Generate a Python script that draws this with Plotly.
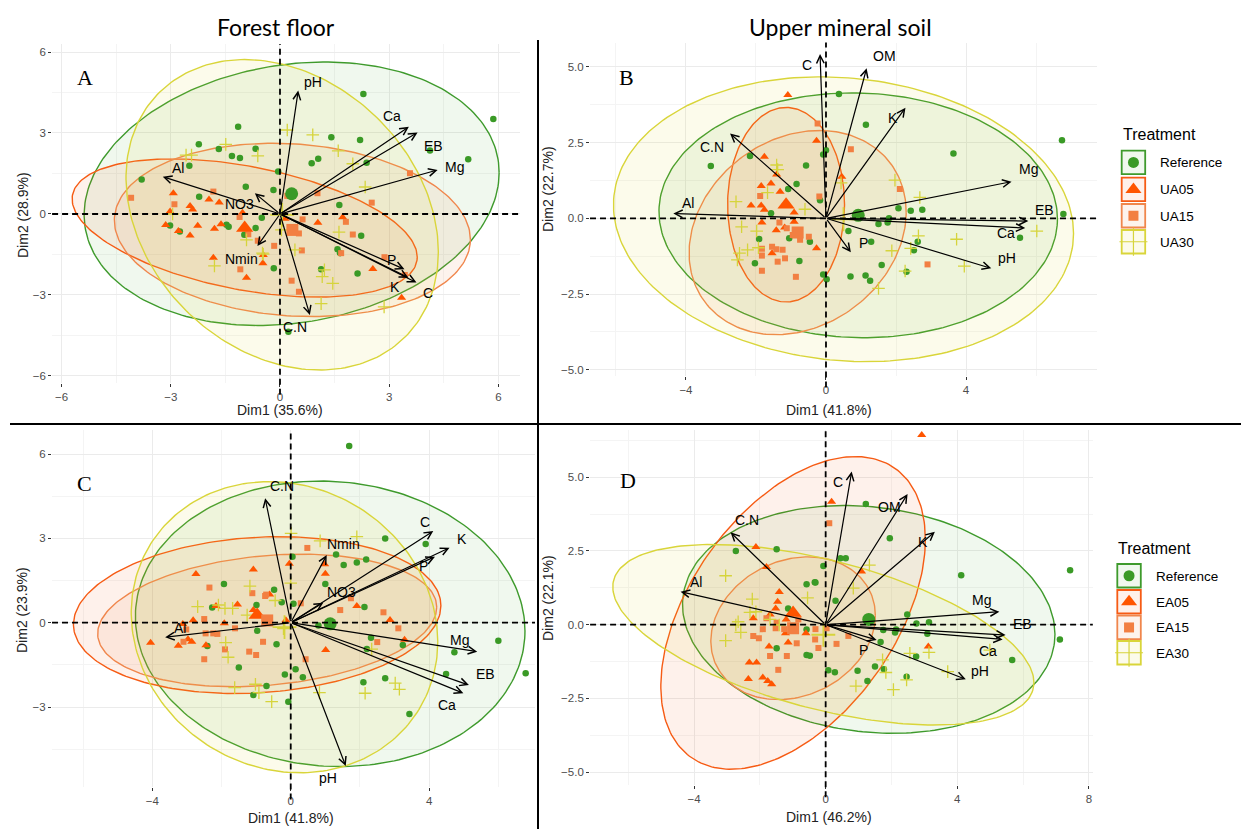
import numpy as np
import plotly.graph_objects as go

W, H = 1247, 829

TOP_LABELS = ["Reference", "UA05", "UA15", "UA30"]
BOTTOM_LABELS = ["Reference", "EA05", "EA15", "EA30"]

# ---------------- Panel A : Forest floor, UA ----------------
A_REF = [(-3.80, 1.28), (-1.15, 3.23), (-2.23, 2.58), (-1.68, 2.41), (-1.32, 2.15), (-1.10, 2.07), (-0.67, 2.42),
         (-2.49, 1.79), (-0.94, 1.01), (-2.22, 0.64), (-0.50, -0.14), (-3.02, -0.43), (-2.75, -0.65), (-1.47, -0.40),
         (-1.41, -0.47), (-0.67, -0.52), (-0.98, -0.77), (2.29, 4.44), (5.86, 3.52), (1.41, 2.84), (2.20, 2.74),
         (4.12, 2.35), (5.17, 2.03), (1.05, 2.05), (0.87, 1.88), (2.38, 1.90), (-0.05, 1.57), (-0.18, 0.89),
         (1.63, 0.33), (2.23, -0.81), (1.58, -1.31), (1.65, -1.45), (1.13, -2.05), (2.13, -2.20), (-0.17, -2.01),
         (0.23, -4.36)]
A_G05 = [(-2.93, 0.77), (-3.14, -0.41), (-3.02, 0.09), (-2.79, -0.63), (-2.47, 0.30), (-2.40, 0.17), (-2.47, -0.80),
         (-2.26, -0.44), (-1.95, 0.54), (-1.67, 0.43), (-1.80, -0.55), (-1.62, -0.38), (-1.83, -1.62), (-0.92, -2.36),
         (-1.03, 0.05), (-0.47, -1.82), (1.04, -0.32), (1.72, -0.12), (-0.46, -1.52), (2.55, -2.04), (3.34, -3.10),
         (0.14, -0.18)]
A_G15 = [(-4.09, 0.60), (-2.90, 0.36), (-1.83, 0.83), (-1.11, -0.11), (-0.61, -0.99), (-0.87, -0.75), (-1.09, -2.05),
         (3.57, 1.51), (1.03, 0.77), (2.52, 0.42), (0.20, 0.67), (0.62, -0.20), (1.81, -0.29), (0.52, -0.72),
         (2.00, -0.76), (-0.16, -1.18), (0.60, -1.35), (1.68, -1.45), (2.87, -1.60), (0.32, -2.47), (0.52, -2.88),
         (3.43, -2.26)]
A_G30 = [(-2.58, 2.18), (-2.43, 2.18), (-1.49, 2.58), (-0.61, 2.15), (-2.95, 0.0), (-1.80, -1.92), (-0.92, -0.96),
         (-0.46, -1.49), (0.20, 3.11), (0.90, 2.93), (1.60, 2.34), (2.34, 1.0), (2.0, 1.86), (0.04, -0.59),
         (-0.48, -1.45), (0.41, -1.33), (1.62, -0.67), (1.22, -2.07), (1.16, -2.32), (1.45, -2.57), (1.13, -3.32),
         (2.86, -3.44)]
A_MEANS = [(0.32, 0.75), (-0.97, -0.52), (0.34, -0.59), (0.06, -0.03)]
A_SPREAD = [(5.70, 4.88), (4.74, 2.56), (4.89, 3.21), (4.29, 5.75)]
A_RHO = [0.16, -0.42, -0.11, -0.24]
A_VARS = ["pH", "Ca", "EB", "Mg", "P", "K", "C", "C.N", "Al", "NO3", "Nmin"]
A_VX = [0.50, 3.54, 3.78, 4.33, 3.42, 3.53, 3.75, 0.82, -3.22, -0.69, -0.62]
A_VY = [4.57, 3.23, 3.02, 1.63, -2.05, -2.36, -2.54, -3.74, 1.38, 0.77, -1.19]
A_LX = [0.92, 3.07, 4.21, 4.78, 3.07, 3.16, 4.07, 0.40, -2.80, -1.12, -1.05]
A_LY = [4.90, 3.63, 2.53, 1.75, -1.70, -2.69, -2.94, -4.20, 1.72, 0.37, -1.65]

# ---------------- Panel B : Upper mineral soil, UA ----------------
B_REF = [(-3.29, 1.73), (-2.17, 2.06), (-1.08, 0.97), (-0.84, 1.13), (-0.57, 1.74), (-1.57, 0.17), (-1.91, -0.68),
         (-1.05, -0.66), (-0.46, -0.77), (-2.03, -1.48), (-0.76, -1.41), (0.37, 4.10), (1.14, 3.09), (0.0, 2.25),
         (-0.08, 2.11), (3.64, 2.14), (6.74, 2.58), (6.78, 0.14), (2.07, 0.33), (2.42, 0.25), (2.75, 0.28),
         (1.80, 0.0), (1.50, -0.19), (1.76, -0.14), (1.29, -0.77), (2.62, -0.77), (2.51, -1.05), (1.59, -1.54),
         (2.30, -1.76), (0.70, -1.92), (1.13, -1.89), (1.26, -2.06), (-0.08, -1.85), (0.02, -2.01), (5.54, -0.64),
         (0.64, -0.42), (-0.17, 0.60)]
B_G05 = [(-1.09, 4.07), (-1.76, 2.03), (-1.85, 1.07), (-1.57, 1.15), (-1.31, 0.88), (-2.14, 0.42), (-1.85, 0.42),
         (-1.76, 0.28), (-1.41, 1.45), (-1.83, -0.14), (-1.42, -0.39), (-1.18, -0.30), (-0.91, -0.11), (-1.54, -1.15),
         (-0.91, 0.19), (-0.27, 2.56), (-0.27, -0.99), (0.45, 1.37)]
B_G15 = [(-1.33, -0.14), (-1.12, -0.33), (-0.95, -0.55), (-0.49, -0.61), (-1.83, -1.00), (-1.83, -1.23), (-1.54, -0.94),
         (-1.42, -1.02), (-1.24, -1.04), (-1.17, -1.32), (-1.38, -1.43), (-1.83, -1.73), (-0.86, -1.93), (-1.88, 0.74),
         (-0.74, -0.71), (-0.19, 0.72), (-0.24, 3.13), (0.71, 2.28), (2.11, 0.97), (2.90, -1.52)]
B_G30 = [(-1.41, 1.76), (-1.38, 1.61), (-1.67, 0.85), (-2.57, 0.55), (-0.60, 0.30), (-2.41, -0.28), (-1.98, -0.42),
         (-1.93, -0.97), (-2.24, -1.04), (-2.47, -1.15), (-2.53, -1.37), (1.97, 1.26), (0.43, 1.17), (2.68, 0.69),
         (6.02, -0.42), (3.73, -0.69), (2.64, -0.58), (2.42, -0.99), (1.88, -1.07), (3.95, -1.58), (2.26, -1.74),
         (1.50, -2.31)]
B_MEANS = [(0.92, 0.10), (-1.14, 0.45), (-0.81, -0.47), (0.50, -0.03)]
B_SPREAD = [(5.69, 4.04), (1.67, 3.21), (3.10, 3.37), (6.57, 4.70)]
B_RHO = [-0.03, 0.0, 0.20, -0.10]
B_VARS = ["C", "OM", "K", "Mg", "EB", "Ca", "pH", "P", "C.N", "Al"]
B_VX = [-0.17, 1.16, 2.27, 5.30, 5.78, 5.69, 4.72, 0.71, -2.74, -4.36]
B_VY = [5.42, 4.95, 3.65, 1.21, -0.09, -0.32, -1.65, -1.12, 2.80, 0.16]
B_LX = [-0.55, 1.66, 1.90, 5.78, 6.24, 5.14, 5.18, 1.07, -3.25, -3.93]
B_LY = [5.06, 5.36, 3.30, 1.64, 0.27, -0.49, -1.30, -0.80, 2.37, 0.50]

# ---------------- Panel C : Forest floor, EA ----------------
C_REF = [(-1.93, 1.38), (-2.27, 0.54), (-0.99, 0.63), (-0.97, -0.29), (-2.41, -0.83), (-1.50, -1.59), (-0.70, -2.25),
         (-1.08, -2.57), (1.69, 6.29), (2.73, 3.0), (3.90, 2.80), (1.31, 2.43), (1.53, 2.05), (1.91, 2.14),
         (2.18, 2.25), (0.05, 2.35), (1.0, 1.38), (-0.48, 1.17), (-0.26, 0.73), (0.08, 0.67), (2.13, 0.56),
         (0.80, -0.10), (2.32, -0.54), (2.20, -0.94), (3.24, -0.79), (0.14, -1.66), (-0.17, -1.84), (0.35, -1.94),
         (-0.41, -0.77), (-0.07, -2.81), (2.10, -2.12), (2.73, -1.98), (3.43, -3.25), (4.49, -1.83), (4.73, -1.05),
         (6.0, -0.64), (6.79, -1.80)]
C_G05 = [(-2.74, 1.73), (-1.08, 1.89), (-1.54, 0.65), (-2.16, 0.59), (-2.82, 0.09), (-3.12, -0.05), (-2.97, -0.59),
         (-2.86, -0.68), (-3.25, -0.82), (-4.05, -0.71), (-1.92, -0.02), (-2.45, -0.80), (-1.08, 0.45), (-0.04, 2.10),
         (1.0, 1.74), (0.98, 2.08), (1.91, 0.59), (2.87, 0.10), (3.29, -0.61), (1.01, -0.97), (-0.14, 0.09),
         (-0.61, 1.0)]
C_G15 = [(-2.35, 1.25), (-1.11, 1.05), (-0.74, 0.95), (-2.50, 0.13), (-3.02, -0.24), (-3.10, -0.68), (-2.46, -0.38),
         (-2.24, -0.38), (-2.12, -0.40), (-1.61, -0.20), (-1.90, -0.95), (-2.50, -1.30), (-1.20, -1.03), (-1.0, -1.15),
         (-0.80, -0.68), (0.48, 2.66), (0.29, 0.69), (1.43, 0.45), (1.74, 0.87), (2.68, 0.37), (3.11, -0.20),
         (2.50, -0.69), (0.43, -1.30), (-0.71, 1.0)]
C_G30 = [(-2.69, 0.57), (-2.09, 0.63), (-1.90, 0.51), (-1.68, 0.51), (-1.18, 1.30), (-1.26, 0.27), (-1.88, -0.71),
         (-1.81, -1.23), (-1.62, -2.31), (-1.02, -2.19), (-0.92, -2.49), (0.01, 3.18), (0.85, 2.91), (1.91, 3.06),
         (0.0, 1.41), (-0.21, -0.21), (2.34, -0.94), (3.02, -2.15), (3.14, -2.37), (2.15, -2.51), (0.83, -2.49),
         (-0.55, -2.81), (-0.45, 0.79)]
C_MEANS = [(1.14, -0.04), (-0.97, 0.27), (-0.68, 0.08), (-0.18, -0.16)]
C_SPREAD = [(5.63, 5.08), (5.31, 2.79), (4.90, 2.36), (4.43, 5.18)]
C_RHO = [-0.05, 0.12, 0.20, -0.10]
C_VARS = ["C.N", "Nmin", "NO3", "C", "K", "P", "Mg", "EB", "Ca", "pH", "Al"]
C_VX = [-0.74, 1.04, 0.94, 4.12, 4.59, 4.17, 5.39, 5.15, 4.99, 1.59, -3.63]
C_VY = [4.43, 2.41, 0.71, 3.26, 2.67, 2.35, -1.03, -2.22, -2.51, -5.10, -0.52]
C_LX = [-0.25, 1.52, 1.47, 3.87, 4.94, 3.83, 4.89, 5.64, 4.51, 1.09, -3.20]
C_LY = [4.86, 2.80, 1.10, 3.60, 2.97, 2.00, -0.62, -1.83, -2.93, -5.54, -0.20]

# ---------------- Panel D : Upper mineral soil, EA ----------------
D_REF = [(-2.73, 2.50), (-1.49, 2.56), (-0.58, 1.37), (-0.33, 1.44), (-1.14, 0.55), (-0.58, -0.16), (-1.49, -0.80),
         (-0.58, -1.03), (-0.48, -1.05), (1.22, 4.09), (1.95, 2.93), (0.45, 2.25), (0.61, 2.25), (-0.07, 1.99),
         (-0.31, 1.43), (0.30, 0.81), (4.12, 1.68), (7.43, 1.85), (2.48, 0.35), (2.76, 0.04), (3.14, 0.08),
         (1.75, -0.18), (2.14, -0.16), (2.11, -0.26), (3.09, -0.31), (1.67, -0.59), (2.75, -1.08), (1.50, -1.42),
         (0.97, -1.56), (1.77, -1.51), (1.27, -1.91), (2.46, -1.76), (0.08, -1.54), (0.28, -1.61), (5.67, -1.20),
         (7.12, -0.50)]
D_G05 = [(-2.12, 2.63), (-1.80, 1.96), (-1.41, 1.11), (-1.46, 0.78), (-1.52, 0.55), (-1.69, 0.35), (-2.20, 0.22),
         (-1.20, 0.18), (-1.22, -0.29), (-1.14, -0.60), (-0.60, -0.29), (-1.72, -0.74), (-2.32, -1.28), (-2.10, -1.28),
         (-2.35, -1.84), (-1.91, -1.79), (-1.76, -1.91), (-1.64, -2.02), (2.92, 6.43), (0.18, 4.17), (1.09, 1.80),
         (3.12, -0.74)]
D_G15 = [(-1.80, 0.22), (-1.49, 0.07), (-2.20, -0.38), (-2.03, -0.46), (-1.91, -0.15), (-1.52, -0.12), (-1.26, -0.15),
         (-0.88, -0.63), (-1.18, -1.06), (-1.69, -1.06), (-1.44, -1.53), (-0.83, 0.18), (-0.31, -0.15), (0.11, 3.44),
         (0.69, -0.38), (0.33, -0.65), (-0.32, -0.50), (-0.22, -0.79), (0.03, -0.12)]
D_G30 = [(-3.04, 1.66), (-2.23, 0.87), (-2.30, 0.42), (-2.12, 0.44), (-2.66, 0.10), (-2.73, -0.01), (-2.58, -0.26),
         (-3.04, -0.54), (-1.69, 0.18), (-1.41, -0.01), (-0.55, 0.91), (1.33, 2.02), (0.84, 1.24), (1.73, -1.19),
         (1.83, -1.62), (2.56, -0.97), (3.14, -0.94), (3.71, -1.59), (2.46, -1.87), (2.06, -2.20), (0.92, -2.08),
         (4.99, -0.86)]
D_MEANS = [(1.31, 0.18), (-0.99, 0.40), (-0.99, -0.12), (-0.07, -0.34)]
D_SPREAD = [(5.66, 3.86), (4.02, 5.30), (2.50, 2.42), (6.40, 3.06)]
D_RHO = [-0.13, 0.47, 0.18, -0.53]
D_VARS = ["C", "OM", "K", "Mg", "EB", "Ca", "pH", "P", "C.N", "Al"]
D_VX = [0.79, 2.49, 3.32, 5.28, 5.47, 5.38, 4.26, 1.55, -2.89, -4.41]
D_VY = [5.19, 4.43, 3.15, 0.44, -0.35, -0.50, -1.85, -0.52, 3.13, 1.12]
D_LX = [0.36, 1.95, 2.97, 4.74, 5.98, 4.92, 4.69, 1.14, -2.39, -3.95]
D_LY = [4.85, 3.98, 2.81, 0.84, 0.02, -0.88, -1.56, -0.86, 3.55, 1.46]

# ---------------- styles ----------------
LINE_COLORS = ["#3E9A2C", "#F65B14", "#F0864C", "#D9D53A"]
PT_COLORS = ["#3A9A26", "#FF5500", "#F27F42", "#D6D43C"]
FILL_COLORS = ["rgba(62,160,44,0.08)", "rgba(246,91,20,0.085)", "rgba(240,134,76,0.10)", "rgba(225,220,60,0.10)"]
SYMBOLS = ["circle", "triangle-up", "square", "cross-thin"]
SIZES = [6.5, 8, 6, 9]
MEAN_SIZES = [13, 15, 12, 17]
FONT = "Liberation Sans"

panels = [
    dict(sfx="", groups=[A_REF, A_G05, A_G15, A_G30], means=A_MEANS, spread=A_SPREAD, rho=A_RHO,
         vars=A_VARS, vx=A_VX, vy=A_VY, lx=A_LX, ly=A_LY,
         box=(52.1, 43.9, 519.9, 383.0), xr=[-6.26, 6.59], yr=[-6.26, 6.30], xd=3, yd=3, yfmt=None),
    dict(sfx="2", groups=[B_REF, B_G05, B_G15, B_G30], means=B_MEANS, spread=B_SPREAD, rho=B_RHO,
         vars=B_VARS, vx=B_VX, vy=B_VY, lx=B_LX, ly=B_LY,
         box=(590.0, 42.6, 1097.0, 375.9), xr=[-6.74, 7.74], yr=[-5.2, 5.8], xd=4, yd=2.5, yfmt=".1f"),
    dict(sfx="3", groups=[C_REF, C_G05, C_G15, C_G30], means=C_MEANS, spread=C_SPREAD, rho=C_RHO,
         vars=C_VARS, vx=C_VX, vy=C_VY, lx=C_LX, ly=C_LY,
         box=(52.0, 429.9, 535.0, 787.1), xr=[-6.9, 7.06], yr=[-5.85, 6.86], xd=4, yd=3, yfmt=None),
    dict(sfx="4", groups=[D_REF, D_G05, D_G15, D_G30], means=D_MEANS, spread=D_SPREAD, rho=D_RHO,
         vars=D_VARS, vx=D_VX, vy=D_VY, lx=D_LX, ly=D_LY,
         box=(590.1, 430.0, 1092.8, 784.9), xr=[-7.16, 8.12], yr=[-5.43, 6.6], xd=4, yd=2.5, yfmt=".1f"),
]


def ellipse(center, spread, rho, n=240):
    t = np.linspace(0, 2 * np.pi, n)
    cx, cy = center
    sx, sy = spread
    x = cx + sx * np.cos(t)
    y = cy + sy * (rho * np.cos(t) + np.sqrt(1 - rho ** 2) * np.sin(t))
    return x, y


def px(x):
    return x / W


def py(y):
    return 1 - y / H


def paper_text(text, x, y, size, family=None, color="black", xanchor="center", angle=0):
    return dict(x=px(x), y=py(y), xref="paper", yref="paper", text=text, showarrow=False,
                xanchor=xanchor, yanchor="middle", textangle=angle,
                font=dict(family=family or FONT, size=size, color=color))


fig = go.Figure()
shapes = []
annotations = []
layout_axes = {}
DASH = dict(color="black", width=1.8, dash="6px,4px")

for p in panels:
    xa, ya = "x" + p["sfx"], "y" + p["sfx"]
    for g in range(4):
        ex, ey = ellipse(p["means"][g], p["spread"][g], p["rho"][g])
        fig.add_trace(go.Scatter(x=ex, y=ey, mode="lines", fill="toself", fillcolor=FILL_COLORS[g],
                                 line=dict(color=LINE_COLORS[g], width=1.4), hoverinfo="skip",
                                 showlegend=False, xaxis=xa, yaxis=ya))
    for g in range(4):
        pts = p["groups"][g]
        fig.add_trace(go.Scatter(x=[q[0] for q in pts], y=[q[1] for q in pts], mode="markers",
                                 marker=dict(symbol=SYMBOLS[g], size=SIZES[g], color=PT_COLORS[g],
                                             line=dict(width=1.3 if g == 3 else 0, color=PT_COLORS[g])),
                                 showlegend=False, xaxis=xa, yaxis=ya))
    for g in range(4):
        m = p["means"][g]
        fig.add_trace(go.Scatter(x=[m[0]], y=[m[1]], mode="markers",
                                 marker=dict(symbol=SYMBOLS[g], size=MEAN_SIZES[g], color=PT_COLORS[g],
                                             line=dict(width=1.8 if g == 3 else 0, color=PT_COLORS[g])),
                                 showlegend=False, xaxis=xa, yaxis=ya))
    shapes.append(dict(type="line", xref=xa, yref=ya + " domain", x0=0, x1=0, y0=-0.035, y1=1.0,
                       line=DASH, layer="above"))
    shapes.append(dict(type="line", xref=xa + " domain", yref=ya, x0=0, x1=1, y0=0, y1=0,
                       line=DASH, layer="above"))
    for name, vx, vy, lx, ly in zip(p["vars"], p["vx"], p["vy"], p["lx"], p["ly"]):
        annotations.append(dict(x=vx, y=vy, ax=0, ay=0, xref=xa, yref=ya, axref=xa, ayref=ya, text="",
                                showarrow=True, arrowhead=5, arrowsize=1.25, arrowwidth=1.2,
                                arrowcolor="black", standoff=0, startstandoff=0))
        annotations.append(dict(x=lx, y=ly, xref=xa, yref=ya, text=name, showarrow=False,
                                font=dict(family=FONT, size=14, color="black")))
    x0, y0, x1, y1 = p["box"]
    common = dict(showgrid=True, gridcolor="#EBEBEB", gridwidth=1, zeroline=False, showline=False,
                  ticks="outside", ticklen=3, tickwidth=1, tickcolor="#333333",
                  tickfont=dict(family=FONT, size=11.5, color="#4D4D4D"), tickmode="linear", tick0=0)
    layout_axes["xaxis" + p["sfx"]] = dict(common, domain=[x0 / W, x1 / W], range=p["xr"], dtick=p["xd"],
                                           anchor=ya,
                                           minor=dict(showgrid=True, gridcolor="#F4F4F4", gridwidth=0.8,
                                                      dtick=p["xd"] / 2, tick0=0))
    ydict = dict(common, domain=[1 - y1 / H, 1 - y0 / H], range=p["yr"], dtick=p["yd"], anchor=xa,
                 minor=dict(showgrid=True, gridcolor="#F4F4F4", gridwidth=0.8, dtick=p["yd"] / 2, tick0=0))
    if p["yfmt"]:
        ydict["tickformat"] = p["yfmt"]
    layout_axes["yaxis" + p["sfx"]] = ydict

# overlay pixel axis used only for legend key symbols
layout_axes["xaxis5"] = dict(domain=[0, 1], range=[0, W], visible=False, fixedrange=True, anchor="y5")
layout_axes["yaxis5"] = dict(domain=[0, 1], range=[H, 0], visible=False, fixedrange=True, anchor="x5")

# frame lines (paper coordinates)
shapes.append(dict(type="line", xref="paper", yref="paper", x0=px(538), x1=px(538), y0=py(40), y1=py(829),
                   line=dict(color="black", width=2), layer="above"))
shapes.append(dict(type="line", xref="paper", yref="paper", x0=px(10), x1=px(1241), y0=py(424), y1=py(424),
                   line=dict(color="black", width=2), layer="above"))

# legends
legends = [dict(labels=TOP_LABELS, bx=1121.7, by=[150.7, 177.7, 204.0, 230.0], tx=1158, ty=134.5),
           dict(labels=BOTTOM_LABELS, bx=1117.3, by=[564.0, 590.0, 615.7, 641.0], tx=1154, ty=548.3)]
LEG_SYM_SIZES = [11, 14, 10, 20]
for lg in legends:
    annotations.append(paper_text("Treatment", lg["bx"] - 1, lg["ty"], 16, xanchor="left"))
    for g in range(4):
        top = lg["by"][g]
        shapes.append(dict(type="rect", xref="paper", yref="paper", x0=px(lg["bx"]), x1=px(lg["bx"] + 23.5),
                           y0=py(top + 23.5), y1=py(top), line=dict(color=LINE_COLORS[g], width=1.8),
                           fillcolor=FILL_COLORS[g], layer="below"))
        annotations.append(paper_text(lg["labels"][g], lg["tx"], top + 12, 13.5, xanchor="left"))
        fig.add_trace(go.Scatter(x=[lg["bx"] + 11.75], y=[top + 11.75], mode="markers", xaxis="x5", yaxis="y5",
                                 marker=dict(symbol=SYMBOLS[g], size=LEG_SYM_SIZES[g], color=PT_COLORS[g],
                                             line=dict(width=1.2 if g == 3 else 0, color=PT_COLORS[g])),
                                 showlegend=False, hoverinfo="skip"))

# titles, panel letters, axis titles
annotations.append(paper_text("Forest floor", 276, 27, 23, family="Lato"))
annotations.append(paper_text("Upper mineral soil", 840, 27, 23, family="Lato"))
for letter, lx, ly in [("A", 85, 78), ("B", 626, 78), ("C", 84, 483), ("D", 628, 480)]:
    annotations.append(paper_text(letter, lx, ly, 22, family="Liberation Serif"))
for txt, tx, ty in [("Dim1 (35.6%)", 280, 410), ("Dim1 (41.8%)", 829, 410),
                    ("Dim1 (41.8%)", 291, 818), ("Dim1 (46.2%)", 829, 817)]:
    annotations.append(paper_text(txt, tx, ty, 14, color="#222222"))
for txt, tx, ty in [("Dim2 (28.9%)", 23, 215), ("Dim2 (22.7%)", 548, 189),
                    ("Dim2 (23.9%)", 22, 610), ("Dim2 (22.1%)", 548, 598)]:
    annotations.append(paper_text(txt, tx, ty, 14, color="#222222", angle=-90))

fig.update_layout(width=W, height=H, margin=dict(l=0, r=0, t=0, b=0), autosize=False,
                  paper_bgcolor="white", plot_bgcolor="rgba(0,0,0,0)", showlegend=False,
                  shapes=shapes, annotations=annotations, **layout_axes)

fig.write_html("out.html")
